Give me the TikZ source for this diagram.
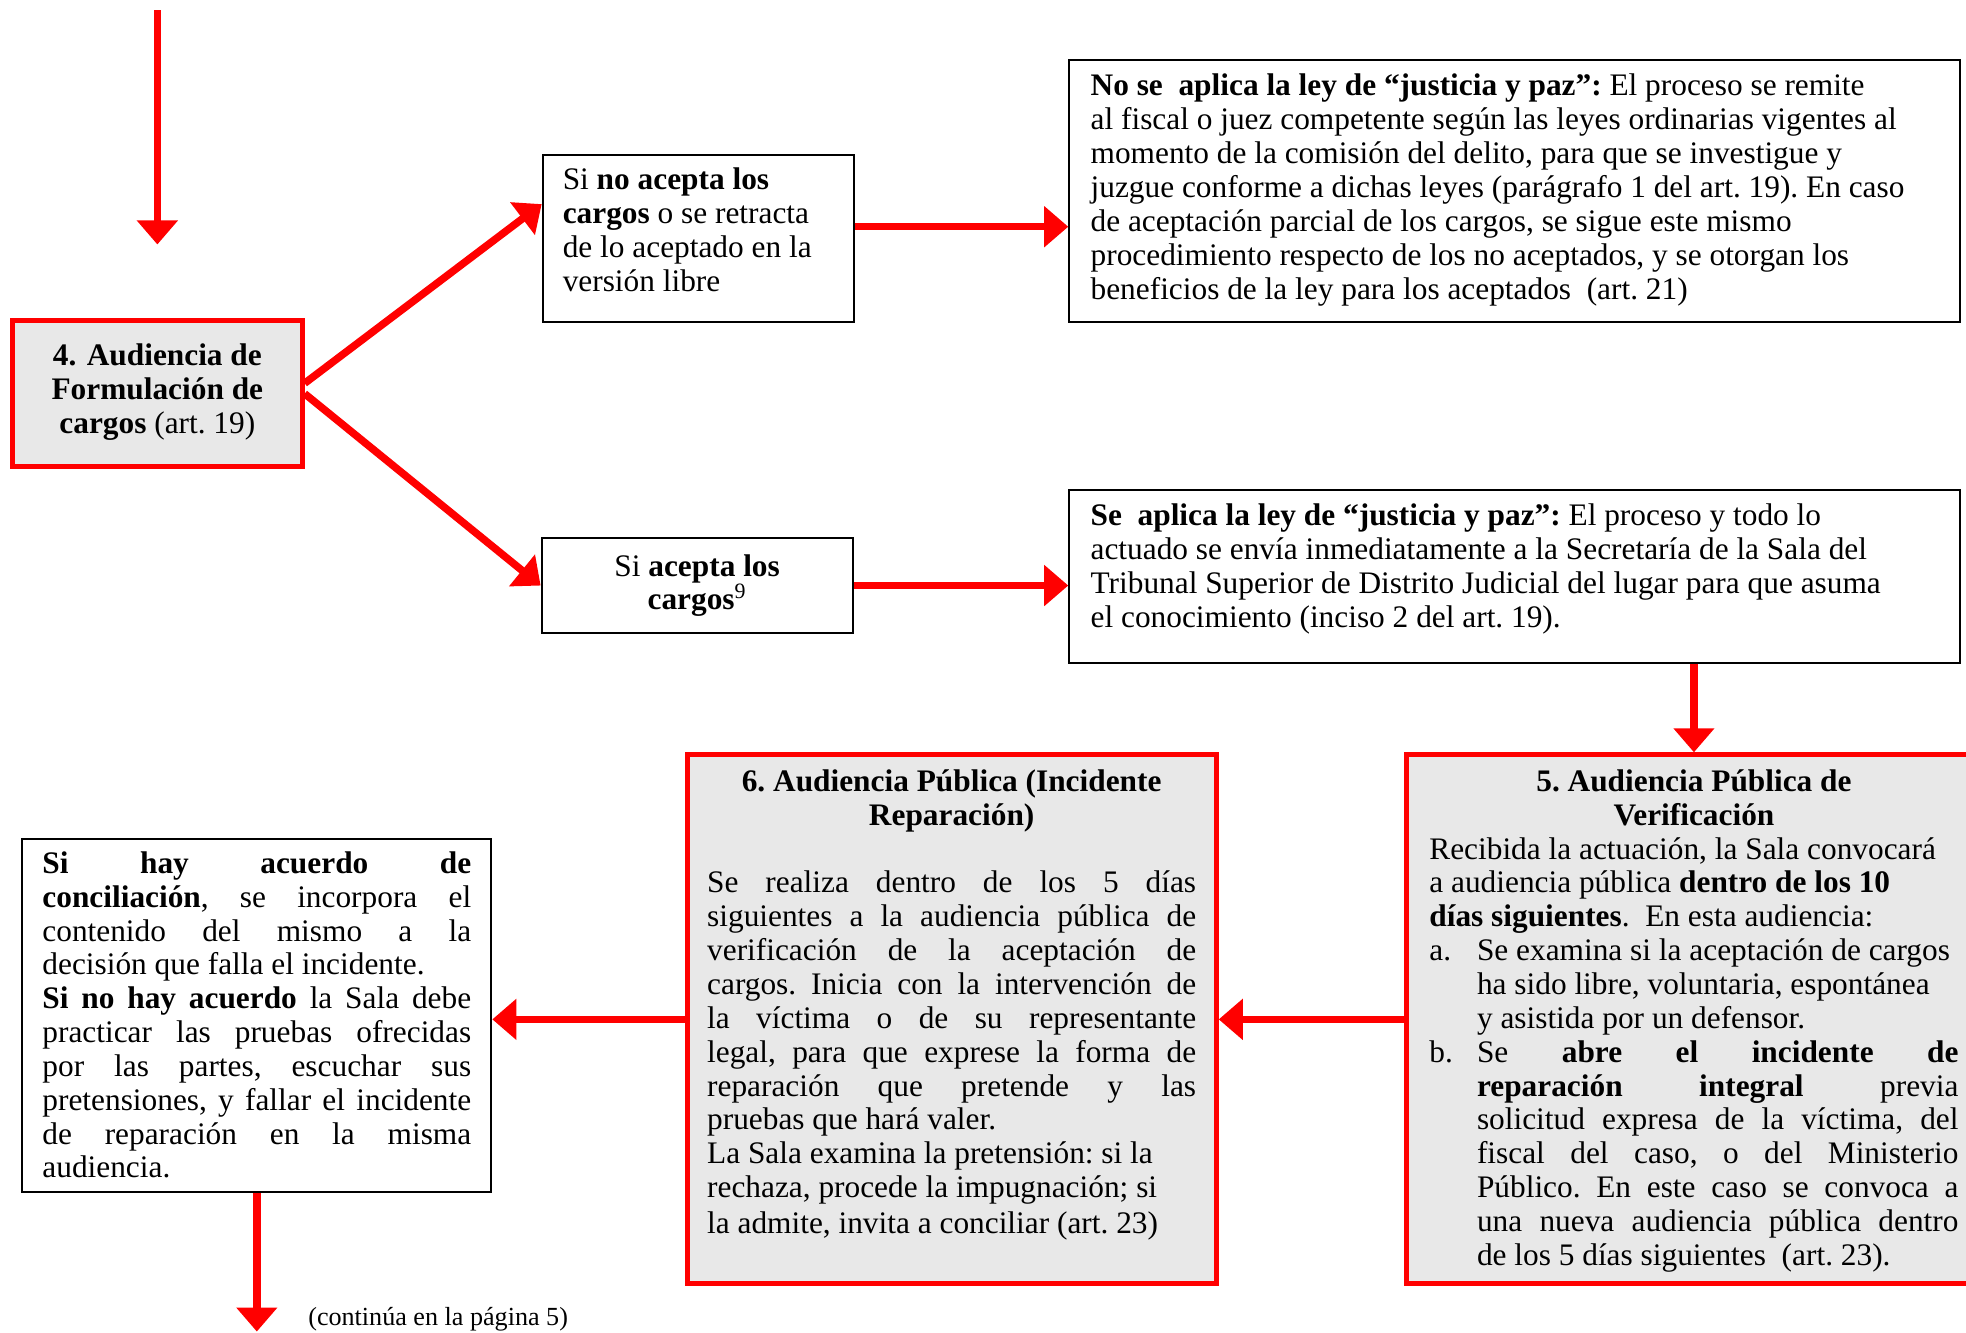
\documentclass[tikz,border=0pt]{standalone}
\usepackage{fontspec}
\setmainfont{Liberation Serif}
\usetikzlibrary{arrows.meta}
\definecolor{boxgray}{HTML}{E8E8E8}
\newcommand{\boxtext}[3]{\parbox[c][#2][t]{#1}{\frenchspacing #3}}

\begin{document}
\begin{tikzpicture}[x=0.6pt, y=-0.6pt, font=\fontsize{15}{16.2}\selectfont]
  \tikzset{ box/.style={draw, line width=1pt, anchor=north west},
            redbox/.style={draw=red, line width=2.4pt, fill=boxgray},
            arr/.style={draw=red, line width=3.6pt, -{Triangle[length=11.5pt,width=19pt]}} };
  \useasboundingbox (0,0) rectangle (1568,1063);

  % paso 4 y sus dos salidas
  \node[redbox, minimum width=138.6pt, minimum height=69.6pt, align=center] (aud4) at (125.5,314)
    {\textbf{4. Audiencia de}\\\textbf{Formulación de}\\\textbf{cargos} (art.~19)\rule[-5pt]{0pt}{0pt}};
  \node[box, inner xsep=9.6pt, inner ysep=6.2pt] (noacepta) at (432,123)
    {\boxtext{129.6pt}{67.4pt}{\raggedright Si \textbf{no acepta los}\\ \textbf{cargos} o se retracta\\ de lo aceptado en la\\ versión libre}};
  \node[draw, line width=1pt, minimum width=148.8pt, minimum height=45.6pt, align=center] (siacepta) at (556,467)
    {Si \textbf{acepta los}\\\textbf{cargos}\textsuperscript{9}};
  \node[box, inner xsep=10.2pt, inner ysep=6.8pt] (noaplica) at (852,47)
    {\boxtext{405.6pt}{111.8pt}{\raggedright \textbf{No se\ \ aplica la ley de “justicia y paz”:} El proceso se remite\\ al fiscal o juez competente según las leyes ordinarias vigentes al\\ momento de la comisión del delito, para que se investigue y\\ juzgue conforme a dichas leyes (parágrafo 1 del art. 19). En caso\\ de aceptación parcial de los cargos, se sigue este mismo\\ procedimiento respecto de los no aceptados, y se otorgan los\\ beneficios de la ley para los aceptados\ \ (art. 21)}};
  \node[box, inner xsep=10.2pt, inner ysep=6.8pt] (siaplica) at (852,390)
    {\boxtext{405.6pt}{69.2pt}{\raggedright \textbf{Se\ \ aplica la ley de “justicia y paz”:} El proceso y todo lo\\ actuado se envía inmediatamente a la Secretaría de la Sala del\\ Tribunal Superior de Distrito Judicial del lugar para que asuma\\ el conocimiento (inciso 2 del art. 19).}};

  % pasos 5 y 6
  \node[redbox, anchor=north west, inner xsep=10.8pt, inner ysep=7.1pt] (aud5) at (1120,600)
    {\boxtext{253.2pt}{239pt}{{\centering\bfseries 5. Audiencia Pública de\\ Verificación\par}
      Recibida la actuación, la Sala convocará\\ a audiencia pública \textbf{dentro de los 10}\\ \textbf{días siguientes}.\ \ En esta audiencia:\par
      \hangindent=22.8pt\hangafter=1 \makebox[22.8pt][l]{a.}Se examina si la aceptación de cargos\\ ha sido libre, voluntaria, espontánea\\ y asistida por un defensor.\par
      \hangindent=22.8pt\hangafter=1 \makebox[22.8pt][l]{b.}Se \textbf{abre el incidente de}\linebreak \textbf{reparación integral} previa\linebreak solicitud expresa de la víctima, del\linebreak fiscal del caso, o del Ministerio\linebreak Público. En este caso se convoca a\linebreak una nueva audiencia pública dentro\linebreak de los 5 días siguientes\ \ (art. 23).}};
  \node[redbox, anchor=north west, inner xsep=9.6pt, inner ysep=7.1pt] (aud6) at (546,600)
    {\boxtext{234pt}{239pt}{{\centering\bfseries 6. Audiencia Pública (Incidente\\ Reparación)\par}
      \vspace{16.2pt}
      Se realiza dentro de los 5 días\linebreak siguientes a la audiencia pública de\linebreak verificación de la aceptación de\linebreak cargos. Inicia con la intervención de\linebreak la víctima o de su representante\linebreak legal, para que exprese la forma de\linebreak reparación que pretende y las\linebreak pruebas que hará valer.\par
      {\raggedright La Sala examina la pretensión: si la\\ rechaza, procede la impugnación; si\\[1pt] la admite, invita a conciliar (art. 23)\par}}};
  \node[box, inner xsep=9.6pt, inner ysep=6.2pt] (acuerdo) at (17,668)
    {\boxtext{205.2pt}{156.8pt}{\textbf{Si hay acuerdo de}\linebreak \textbf{conciliación}, se incorpora el\linebreak contenido del mismo a la\linebreak decisión que falla el incidente.\par
      \textbf{Si no hay acuerdo} la Sala debe\linebreak practicar las pruebas ofrecidas\linebreak por las partes, escuchar sus\linebreak pretensiones, y fallar el incidente\linebreak de reparación en la misma\linebreak audiencia.}};
  \node[font=\fontsize{12.5}{14}\selectfont, anchor=base west] (cont) at (240,1057) {(continúa en la página 5)};

  % flechas
  \coordinate (entrada) at (125.5,8);
  \coordinate (salida) at (204,1062);
  \draw[arr, shorten >=35.4pt] (entrada) -- (aud4.north);
  \draw[arr] ([yshift=5pt]aud4.east) -- ([yshift=16.5pt]noacepta.west);
  \draw[arr] (aud4.east) -- (siacepta.west);
  \draw[arr] ([yshift=5.7pt]noacepta.east) -- ([yshift=5.7pt]noacepta.east -| noaplica.west);
  \draw[arr] (siacepta.east) -- (siacepta.east -| siaplica.west);
  \draw[arr] (aud5.north |- siaplica.south) -- (aud5.north);
  \draw[arr] (aud5.west) -- (aud6.east);
  \draw[arr] (aud6.west) -- (aud6.west -| acuerdo.east);
  \draw[arr] (acuerdo.south) -- (acuerdo.south |- salida);
\end{tikzpicture}
\end{document}
